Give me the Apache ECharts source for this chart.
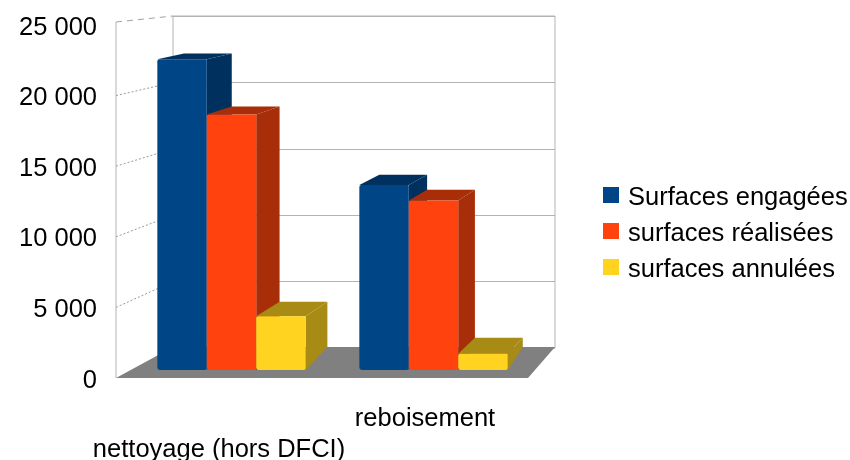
<!DOCTYPE html>
<html><head><meta charset="utf-8">
<style>html,body{margin:0;padding:0;background:#fff}#c{width:850px;height:460px}</style>
<script src="https://cdn.jsdelivr.net/npm/echarts@6/dist/echarts.min.js"></script>
</head><body><div id="c"></div>
<script>
const categories = ['nettoyage (hors DFCI)', 'reboisement'];
const surfacesEngagees = [22000, 13100];
const surfacesRealisees = [18100, 12000];
const surfacesAnnulees = [3800, 1150];
const seriesNames = ['Surfaces engagées', 'surfaces réalisées', 'surfaces annulées'];
const tickValues = [0, 5000, 10000, 15000, 20000, 25000];

const FONT = '"Liberation Sans", Arial, sans-serif';
const FS = 25.5;
const WALL = '#b3b3b3';
const chart = echarts.init(document.getElementById('c'), null, {renderer: 'canvas'});

// Oblique projection of the bars: depth shrinks towards the right and grows towards the floor.
const depthX = x => 0.033 * (964 - x);
const depthY = y => -(6 + (y - 60) * 0.034);
const BASE_LIFT = 8, BASE_DEPTH = -23;
const groupShift = [12.5, 8.5];

function barRenderer(slot, colors) {
  return function (params, api) {
    const i = api.value(0);
    const top = api.coord([i, api.value(1)]);
    const bottom = api.coord([i, 0]);
    const w = api.size([1, 0])[0] * 0.24;
    const x0 = top[0] + groupShift[i] + (slot - 1.5) * w;
    const x1 = x0 + w;
    const yT = top[1] - BASE_LIFT;
    const yB = bottom[1] - BASE_LIFT;
    const dxL = depthX(x0), dxR = depthX(x1), dyT = depthY(yT);
    return {
      type: 'group',
      children: [
        {type: 'polygon', shape: {points: [[x1, yT], [x1 + dxR, yT + dyT], [x1 + dxR, yB + BASE_DEPTH], [x1, yB]]},
         style: {fill: colors[1]}},
        {type: 'polygon', shape: {points: [[x0, yT], [x0 + dxL, yT + dyT], [x1 + dxR, yT + dyT], [x1, yT]]},
         style: {fill: colors[1]}},
        {type: 'rect', shape: {x: x0, y: yT, width: w, height: yB - yT, r: [2, 1, 2, 3]},
         style: {fill: colors[0]}}
      ]
    };
  };
}

function floorRenderer(params, api) {
  const a = api.coord([0, 0]);
  const size = api.size([1, 0])[0];
  const xL = a[0] - size / 2, xR = xL + 2 * size, y = a[1];
  return {type: 'polygon', shape: {points: [[xL, y], [xR, y], [xR + 27, y - 31], [xL + 57, y - 31]]},
          style: {fill: '#808080'}};
}

function wallRenderer(params, api) {
  const v = api.value(0);
  const a = api.coord([0, v]);
  const size = api.size([1, 0])[0];
  const x = a[0] - size / 2;
  const isTop = v === tickValues[tickValues.length - 1];
  const y = isTop ? a[1] - 3 : a[1];
  const back = chart.convertToPixel({yAxisIndex: 1}, v);
  const children = [];
  if (v > 0) {
    children.push({type: 'line', shape: {x1: x, y1: y, x2: x + 57, y2: back},
      style: {stroke: isTop ? '#a0a0a0' : '#9a9a9a', lineWidth: 1, lineDash: isTop ? [6, 5] : [2, 2]}});
  }
  if (isTop) {
    const zero = api.coord([0, 0]);
    children.push({type: 'line', shape: {x1: x, y1: y, x2: x, y2: zero[1]},
      style: {stroke: WALL, lineWidth: 1}});
  }
  return {type: 'group', children};
}

const toPoints = vals => vals.map((v, i) => [i, v]);
const barColors = [['#004586', '#00315e'], ['#ff420e', '#a82e0a'], ['#ffd320', '#a88b14']];

chart.setOption({
  animation: false,
  backgroundColor: '#fff',
  legend: {
    data: seriesNames, orient: 'vertical', left: 598, top: 180,
    itemWidth: 16, itemHeight: 16, itemGap: 10, icon: 'rect', selectedMode: false,
    formatter: n => '{a|' + n + '}',
    textStyle: {fontFamily: FONT, fontSize: FS, color: '#000', padding: [0, 0, 0, 4],
      rich: {a: {fontFamily: FONT, fontSize: FS, color: '#000', padding: [6, 0, 0, 0]}}}
  },
  grid: [
    {left: 116, width: 412, top: 25, height: 353, outerBoundsMode: 'none'},
    {left: 173, width: 382, top: 16, height: 332, outerBoundsMode: 'none', show: true, borderColor: WALL, borderWidth: 1, backgroundColor: 'transparent'}
  ],
  xAxis: [
    {gridIndex: 0, type: 'category', data: categories,
     axisLine: {show: false}, axisTick: {show: false},
     axisLabel: {interval: 0, margin: 25, fontFamily: FONT, fontSize: FS, color: '#000', lineHeight: 31,
       formatter: (v, i) => i === 0 ? '\n' + v : v}},
    {gridIndex: 1, type: 'category', data: categories, show: false}
  ],
  yAxis: [
    {gridIndex: 0, type: 'value', min: 0, max: 25000, interval: 5000,
     axisLine: {show: false}, axisTick: {show: false}, splitLine: {show: false},
     axisLabel: {margin: 19, fontFamily: FONT, fontSize: FS, color: '#000', verticalAlign: 'top', lineHeight: 5,
       formatter: v => String(v).replace(/\B(?=(\d{3})+$)/g, ' ')}},
    {gridIndex: 1, type: 'value', min: 0, max: 25000, interval: 5000,
     axisLine: {show: false}, axisTick: {show: false}, axisLabel: {show: false},
     splitLine: {show: true, lineStyle: {color: WALL, width: 1}}}
  ],
  series: [
    {type: 'custom', name: 'walls', xAxisIndex: 0, yAxisIndex: 0, z: 1, silent: true,
     data: tickValues.map(v => [v]), encode: {y: 0}, renderItem: wallRenderer},
    {type: 'custom', name: 'floor', xAxisIndex: 0, yAxisIndex: 0, z: 2, silent: true,
     data: [[0]], renderItem: floorRenderer},
    ...[surfacesEngagees, surfacesRealisees, surfacesAnnulees].map((vals, s) => ({
      type: 'custom', name: seriesNames[s], xAxisIndex: 0, yAxisIndex: 0, z: 3 + s,
      itemStyle: {color: barColors[s][0]},
      data: toPoints(vals), encode: {x: 0, y: 1},
      renderItem: barRenderer(s, barColors[s])
    }))
  ]
});
</script></body></html>
